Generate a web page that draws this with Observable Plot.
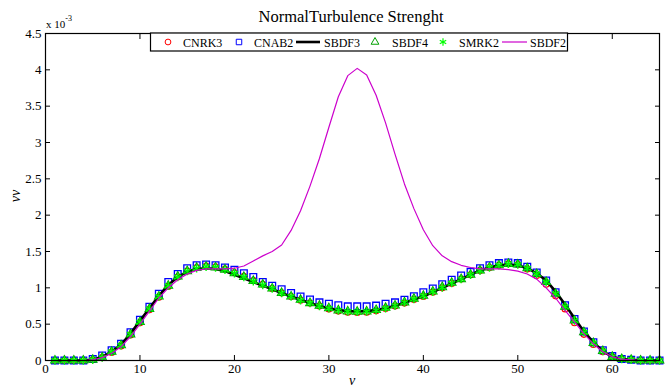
<!DOCTYPE html>
<html><head><meta charset="utf-8">
<script src="https://cdn.jsdelivr.net/npm/d3@7"></script>
<script src="https://cdn.jsdelivr.net/npm/@observablehq/plot@0.6"></script>
<style>html,body{margin:0;padding:0;background:#fff;} svg text{font-family:"Liberation Serif","Times New Roman",serif !important;}</style>
</head><body><div id="chart"></div>
<script>
// x positions (v)
const xs = [1,2,3,4,5,6,7,8,9,10,11,12,13,14,15,16,17,18,19,20,21,22,23,24,25,26,27,28,29,30,31,32,33,34,35,36,37,38,39,40,41,42,43,44,45,46,47,48,49,50,51,52,53,54,55,56,57,58,59,60,61,62,63,64,65];
// values in units of 1e-3
const cnrk3 = [0,0,0,0,0.01,0.04,0.11,0.2,0.35,0.52,0.7,0.87,1.02,1.15,1.23,1.28,1.3,1.29,1.26,1.21,1.16,1.1,1.05,0.99,0.93,0.88,0.83,0.79,0.75,0.71,0.68,0.665,0.66,0.665,0.685,0.715,0.75,0.79,0.84,0.88,0.94,1.0,1.06,1.12,1.18,1.24,1.28,1.31,1.33,1.32,1.26,1.17,1.05,0.89,0.71,0.52,0.36,0.22,0.12,0.05,0.02,0.01,0,0,0];
const cnab2 = [0,0,0,0,0.02,0.07,0.14,0.23,0.39,0.56,0.74,0.92,1.08,1.19,1.27,1.31,1.32,1.31,1.28,1.25,1.2,1.15,1.08,1.03,0.98,0.93,0.88,0.84,0.8,0.78,0.76,0.745,0.745,0.745,0.755,0.78,0.8,0.835,0.885,0.94,0.99,1.05,1.11,1.17,1.22,1.27,1.31,1.34,1.35,1.34,1.29,1.21,1.1,0.94,0.76,0.57,0.4,0.25,0.14,0.06,0.02,0.01,0,0,0];
const sbdf3 = [0,0,0,0,0.01,0.05,0.12,0.22,0.37,0.545,0.72,0.89,1.04,1.15,1.22,1.26,1.27,1.26,1.23,1.18,1.13,1.08,1.03,0.98,0.93,0.88,0.835,0.79,0.75,0.72,0.695,0.68,0.675,0.68,0.695,0.72,0.755,0.795,0.84,0.885,0.94,1.0,1.06,1.12,1.18,1.24,1.28,1.31,1.32,1.31,1.27,1.2,1.1,0.95,0.77,0.58,0.4,0.25,0.13,0.05,0.02,0.01,0,0,0];
const sbdf4 = [0,0,0,0,0.01,0.04,0.12,0.21,0.36,0.53,0.71,0.88,1.03,1.155,1.23,1.275,1.29,1.28,1.25,1.2,1.15,1.095,1.045,0.99,0.93,0.88,0.835,0.79,0.755,0.72,0.69,0.675,0.672,0.675,0.695,0.725,0.756,0.8,0.85,0.89,0.95,1.01,1.07,1.12,1.18,1.24,1.28,1.31,1.33,1.32,1.27,1.19,1.08,0.92,0.74,0.55,0.39,0.24,0.13,0.05,0.02,0.01,0,0,0];
const smrk2 = [0,0,0,0,0.01,0.04,0.12,0.21,0.36,0.53,0.71,0.88,1.03,1.15,1.23,1.27,1.29,1.28,1.25,1.2,1.15,1.09,1.04,0.99,0.93,0.88,0.83,0.79,0.75,0.72,0.69,0.675,0.67,0.675,0.69,0.72,0.755,0.8,0.845,0.89,0.945,1.005,1.065,1.12,1.18,1.235,1.28,1.31,1.33,1.32,1.27,1.19,1.08,0.92,0.74,0.55,0.39,0.24,0.13,0.05,0.02,0.01,0,0,0];
const sbdf2 = [0,0,0,0,0.01,0.04,0.1,0.19,0.33,0.5,0.68,0.86,1.0,1.11,1.19,1.24,1.26,1.26,1.26,1.27,1.3,1.37,1.44,1.5,1.59,1.79,2.06,2.4,2.78,3.21,3.63,3.92,4.02,3.93,3.65,3.27,2.84,2.43,2.09,1.8,1.58,1.44,1.36,1.31,1.28,1.26,1.26,1.26,1.25,1.23,1.19,1.12,1.0,0.86,0.69,0.53,0.37,0.23,0.12,0.05,0.02,0.01,0,0,0];
const xTicks = [0,10,20,30,40,50,60];
const yTicks = [0,0.5,1,1.5,2,2.5,3,3.5,4,4.5];
const seriesNames = ["CNRK3","CNAB2","SBDF3","SBDF4","SMRK2","SBDF2"];
const colors = {CNRK3:"#ff0000", CNAB2:"#0000ff", SBDF3:"#000000", SBDF4:"#00a000", SMRK2:"#00ff00", SBDF2:"#cc00cc"};

const rows = xs.map((x,i) => ({x, CNRK3: cnrk3[i], CNAB2: cnab2[i], SBDF3: sbdf3[i], SBDF4: sbdf4[i], SMRK2: smrk2[i], SBDF2: sbdf2[i]}));

const font = '"Liberation Serif", "Times New Roman", serif';
const chart = Plot.plot({
  width: 672, height: 388,
  marginLeft: 45, marginRight: 13, marginTop: 33, marginBottom: 28,
  style: {fontFamily: font, fontSize: "13px", color: "black", background: "white", overflow: "visible"},
  x: {domain: [0, 65]},
  y: {domain: [0, 4.5]},
  marks: [
    Plot.axisX(xTicks, {anchor: "bottom", tickSize: -5, tickPadding: 8, label: null, fontSize: 13, tickFormat: d => String(d)}),
    Plot.axisX(xTicks, {anchor: "top", tickSize: -5, tickFormat: () => "", label: null}),
    Plot.axisY(yTicks, {anchor: "left", tickSize: -5, tickPadding: 9, label: null, fontSize: 13, tickFormat: d => String(d)}),
    Plot.axisY(yTicks, {anchor: "right", tickSize: -5, tickFormat: () => "", label: null}),
    Plot.dot(rows, {x: "x", y: "CNRK3", r: 3, symbol: "circle", stroke: colors.CNRK3, strokeWidth: 1.1}),
    Plot.dot(rows, {x: "x", y: "CNAB2", r: 3.8, symbol: "square", stroke: colors.CNAB2, strokeWidth: 1.3}),
    Plot.line(rows, {x: "x", y: "SBDF3", stroke: colors.SBDF3, strokeWidth: 2.6}),
    Plot.dot(rows, {x: "x", y: "SBDF4", r: 3.2, symbol: "triangle", stroke: colors.SBDF4, strokeWidth: 1.1}),
    Plot.dot(rows, {x: "x", y: "SMRK2", r: 4, symbol: "asterisk", stroke: colors.SMRK2, strokeWidth: 1.4}),
    Plot.line(rows, {x: "x", y: "SBDF2", stroke: colors.SBDF2, strokeWidth: 1.2}),
    Plot.frame({stroke: "black", strokeWidth: 1.2})
  ]
});
document.getElementById("chart").appendChild(chart);

const svg = d3.select(chart);
svg.selectAll("text").style("font-family", font);
const addText = (sel) => sel.attr("text-anchor", "start").style("font-family", font).attr("fill", "black");
// title
addText(svg.append("text")).attr("x", 351).attr("y", 22).attr("text-anchor", "middle")
  .style("font-size", "16.5px").text("NormalTurbulence Strenght");
// exponent
const ex = addText(svg.append("text")).attr("x", 46).attr("y", 28).style("font-size", "11px");
ex.append("tspan").text("x 10");
ex.append("tspan").attr("dy", -7).style("font-size", "8px").text("-3");
// axis labels
addText(svg.append("text")).attr("x", 352).attr("y", 385).attr("text-anchor", "middle")
  .style("font-size", "14px").style("font-style", "italic").text("v");
addText(svg.append("text")).attr("transform", "translate(20,196) rotate(-90)").attr("text-anchor", "middle")
  .style("font-size", "14px").style("font-style", "italic").text("vv");

// legend
const lg = svg.append("g");
lg.append("rect").attr("x", 150.5).attr("y", 33).attr("width", 417).attr("height", 18)
  .attr("fill", "white").attr("stroke", "black").attr("stroke-width", 1.2);
const ly = 42;
const items = [
  {name: "CNRK3", type: "circle", sx: 168, tx: 183},
  {name: "CNAB2", type: "square", sx: 239, tx: 254},
  {name: "SBDF3", type: "line", sx: 296, ex: 320, tx: 324, w: 2.6},
  {name: "SBDF4", type: "triangle", sx: 375, tx: 392},
  {name: "SMRK2", type: "asterisk", sx: 443, tx: 459},
  {name: "SBDF2", type: "line", sx: 502, ex: 527, tx: 530, w: 1.2}
];
const symMap = {circle: [d3.symbolCircle, 26], square: [d3.symbolSquare, 30], triangle: [d3.symbolTriangle, 26], asterisk: [d3.symbolAsterisk, 38]};
for (const it of items) {
  const c = colors[it.name];
  if (it.type === "line") {
    lg.append("line").attr("x1", it.sx).attr("x2", it.ex).attr("y1", ly).attr("y2", ly)
      .attr("stroke", c).attr("stroke-width", it.w);
  } else {
    const [t, s] = symMap[it.type];
    lg.append("path").attr("d", d3.symbol(t, s)()).attr("transform", `translate(${it.sx},${ly})`)
      .attr("fill", "none").attr("stroke", c).attr("stroke-width", it.type === "asterisk" ? 1.2 : 1);
  }
  addText(lg.append("text")).attr("x", it.tx).attr("y", 46.5).style("font-size", "12px").text(it.name);
}
</script>
</body></html>
